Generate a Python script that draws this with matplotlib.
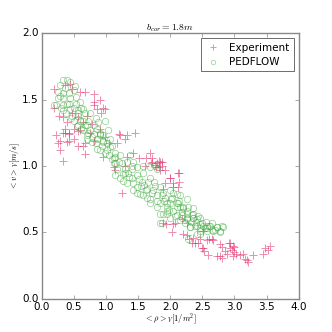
import matplotlib
matplotlib.use("Agg")
import matplotlib.pyplot as plt

plt.style.use("classic")

title = r"$b_{cor}=1.8m$"
xlabel = r"$<\rho>_V[1/m^2]$"
ylabel = r"$<v>_V[m/s]$"
series_names = ["Experiment", "PEDFLOW"]

exp_x = [0.19, 0.36, 0.45, 0.48, 0.60, 0.68, 0.81, 0.81, 0.91, 0.81, 0.95, 0.87, 0.99, 0.48, 0.19,
         0.27, 0.34, 0.40, 0.56, 0.71, 0.37, 0.34, 0.50, 0.43, 0.60, 0.76, 0.91, 0.79, 0.65,
         0.22, 0.37, 0.43, 0.56, 0.25, 0.29, 0.40, 0.42, 0.50, 0.29, 0.56, 0.65, 0.68, 0.68,
         0.34, 0.81, 0.93, 1.22, 1.33, 1.46, 1.30, 1.18, 0.99, 1.43, 1.33, 0.96, 1.30, 1.05,
         1.13, 1.15, 1.25, 1.52, 1.63, 1.69, 1.72, 1.72, 1.80, 1.82, 1.87, 1.92, 1.84, 2.13,
         2.00, 2.14, 1.92, 1.89, 2.05, 1.82, 1.61, 1.84, 1.87, 2.12, 2.00, 2.05, 2.12, 1.76,
         2.08, 2.03, 2.26, 2.51, 1.93, 2.05, 1.89, 2.19, 2.26, 2.30, 2.36, 2.39, 2.43, 2.47,
         2.57, 2.65, 2.67, 2.51, 2.53, 2.59, 2.78, 2.80, 2.93, 2.98, 2.96, 2.78, 2.80, 2.88,
         2.98, 3.03, 2.91, 2.99, 2.93, 3.00, 3.09, 3.14, 3.16, 3.21, 3.29, 3.44, 3.47, 3.52,
         3.56, 2.20, 2.34, 2.49, 2.61, 2.73, 2.85, 3.19, 1.78, 1.70, 1.20]
exp_y = [1.58, 1.61, 1.62, 1.58, 1.56, 1.56, 1.54, 1.48, 1.50, 1.46, 1.44, 1.43, 1.43, 1.40, 1.44,
         1.38, 1.37, 1.33, 1.37, 1.38, 1.28, 1.25, 1.28, 1.25, 1.27, 1.25, 1.28, 1.32, 1.33,
         1.23, 1.25, 1.24, 1.26, 1.17, 1.19, 1.18, 1.19, 1.20, 1.12, 1.15, 1.15, 1.09, 1.17,
         1.04, 1.19, 1.40, 1.23, 1.23, 1.25, 1.20, 1.17, 1.22, 1.10, 1.07, 1.07, 1.00, 1.17,
         0.99, 0.97, 0.80, 1.06, 1.06, 1.10, 1.06, 1.03, 1.02, 0.99, 1.03, 0.97, 0.97, 0.95,
         0.91, 0.88, 0.87, 0.83, 0.84, 1.04, 1.00, 1.03, 1.00, 0.95, 0.91, 0.87, 0.84, 1.01,
         0.57, 0.50, 0.48, 0.51, 0.56, 0.56, 0.57, 0.60, 0.57, 0.45, 0.46, 0.42, 0.42, 0.45,
         0.44, 0.45, 0.44, 0.38, 0.36, 0.33, 0.41, 0.39, 0.42, 0.40, 0.37, 0.32, 0.31, 0.34,
         0.32, 0.34, 0.42, 0.39, 0.38, 0.35, 0.33, 0.34, 0.30, 0.28, 0.33, 0.34, 0.38, 0.37,
         0.40, 0.49, 0.42, 0.38, 0.45, 0.32, 0.36, 0.29, 0.99, 1.02, 1.24]

ped_x = [0.34, 0.40, 0.45, 0.29, 0.37, 0.25, 0.33, 0.42, 0.50, 0.25, 0.34, 0.45, 0.53, 0.22,
         0.33, 0.42, 0.53, 0.60, 0.34, 0.45, 0.56, 0.65, 0.48, 0.57, 0.68, 0.76, 0.50, 0.64,
         0.73, 0.84, 0.57, 0.71, 0.81, 0.88, 0.65, 0.76, 0.87, 0.71, 0.81, 0.91, 0.99, 0.19,
         0.40, 0.50, 0.56, 0.60, 0.68, 0.73, 0.79, 0.84, 0.91, 0.96, 1.04, 0.87, 0.91, 1.02,
         1.07, 1.15, 1.15, 1.15, 1.22, 1.27, 1.33, 1.41, 1.49, 1.43, 1.53, 1.64, 1.69, 1.80,
         1.84, 1.90, 1.95, 2.05, 2.16, 2.26, 2.36, 2.47, 0.95, 1.02, 0.99, 1.10, 1.15, 1.12,
         1.22, 1.20, 1.12, 1.25, 1.33, 1.30, 1.41, 1.49, 1.58, 1.69, 1.77, 1.80, 0.91, 0.96,
         1.43, 1.41, 1.49, 1.58, 1.43, 1.57, 1.69, 1.64, 1.77, 1.89, 2.05, 2.16, 2.26, 1.80,
         1.69, 1.58, 1.49, 1.84, 2.00, 2.10, 1.38, 1.74, 1.84, 2.00, 2.10, 1.80, 1.95, 2.10,
         2.20, 2.26, 2.36, 2.47, 2.57, 1.89, 2.00, 2.16, 1.84, 2.31, 2.42, 1.87, 1.95, 2.10,
         2.19, 2.26, 2.36, 2.42, 2.47, 2.51, 2.57, 2.62, 2.67, 2.73, 2.78, 2.82, 2.47, 2.31,
         2.28, 2.20, 2.28, 2.36, 2.19, 2.26, 2.34, 2.42, 2.50, 2.57, 2.65, 2.73, 2.81, 2.78,
         2.47, 2.54, 2.65, 2.39, 2.23, 0.30, 0.38, 0.46, 0.55, 0.62, 0.70, 0.78, 0.86, 0.94,
         1.05, 1.10, 1.18, 1.26, 1.35, 1.52, 1.60, 1.66, 1.72, 1.92, 1.98, 2.02, 2.08, 2.12,
         2.18, 2.32, 2.40, 2.44, 2.55, 2.60, 2.70, 1.55, 1.62, 1.75, 1.88, 1.95, 2.03, 2.14,
         1.30, 1.36, 1.06, 0.62, 0.52, 0.28]
ped_y = [1.65, 1.65, 1.63, 1.61, 1.59, 1.56, 1.55, 1.55, 1.57, 1.51, 1.51, 1.51, 1.52, 1.46,
         1.46, 1.47, 1.47, 1.48, 1.42, 1.43, 1.42, 1.43, 1.38, 1.38, 1.40, 1.40, 1.34, 1.34,
         1.34, 1.36, 1.31, 1.31, 1.31, 1.33, 1.27, 1.27, 1.28, 1.23, 1.24, 1.24, 1.34, 1.46,
         1.47, 1.44, 1.40, 1.34, 1.31, 1.25, 1.22, 1.17, 1.23, 1.19, 1.27, 1.13, 1.12, 1.12,
         1.14, 1.07, 1.02, 0.93, 0.91, 0.89, 0.87, 0.91, 0.84, 0.82, 0.79, 0.76, 0.72, 0.69,
         0.64, 0.74, 0.69, 0.66, 0.69, 0.66, 0.64, 0.61, 1.18, 1.17, 1.10, 1.15, 1.10, 1.06,
         1.08, 1.03, 1.02, 1.02, 1.03, 0.98, 1.00, 0.99, 1.00, 0.99, 1.00, 0.98, 1.25, 1.23,
         1.03, 0.98, 0.93, 0.95, 0.87, 0.88, 0.91, 0.83, 0.85, 0.80, 0.80, 0.78, 0.75, 0.78,
         0.75, 0.78, 0.80, 0.72, 0.72, 0.72, 1.08, 0.82, 0.84, 0.82, 0.79, 0.74, 0.72, 0.69,
         0.69, 0.64, 0.61, 0.56, 0.51, 0.64, 0.61, 0.59, 0.57, 0.54, 0.49, 0.57, 0.64, 0.63,
         0.61, 0.60, 0.61, 0.55, 0.53, 0.55, 0.53, 0.55, 0.51, 0.54, 0.50, 0.54, 0.49, 0.54,
         0.45, 0.68, 0.69, 0.68, 0.63, 0.61, 0.63, 0.60, 0.57, 0.55, 0.57, 0.54, 0.55, 0.51,
         0.51, 0.53, 0.52, 0.55, 0.57, 1.44, 1.40, 1.36, 1.30, 1.28, 1.20, 1.18, 1.20, 1.15,
         1.08, 1.05, 0.98, 0.94, 0.95, 0.90, 0.86, 0.88, 0.80, 0.76, 0.67, 0.75, 0.62, 0.72,
         0.65, 0.58, 0.58, 0.62, 0.58, 0.55, 0.52, 0.85, 0.82, 0.88, 0.78, 0.66, 0.76, 0.74,
         0.95, 0.92, 1.20, 1.44, 1.60, 1.53]

fig = plt.figure(figsize=(3.32, 3.32), dpi=100)
fig.patch.set_facecolor("white")
ax = fig.add_subplot(111)
ax.plot(exp_x, exp_y, linestyle="none", marker="+", ms=5.2, mew=0.7,
        color="#e0306e", alpha=0.55, label=series_names[0])
ax.plot(ped_x, ped_y, linestyle="none", marker="o", ms=4.6, mew=0.5,
        mfc="none", mec="#3aa83a", alpha=0.55, label=series_names[1])
ax.set_xlim(0, 4)
ax.set_ylim(0, 2)
ax.set_xticks([0.0, 0.5, 1.0, 1.5, 2.0, 2.5, 3.0, 3.5, 4.0])
ax.set_yticks([0.0, 0.5, 1.0, 1.5, 2.0])
ax.tick_params(labelsize=7.5, length=3, color="#888888", pad=2)
for s in ax.spines.values():
    s.set_color("#888888")
ax.set_title(title, fontsize=7, pad=2)
ax.set_xlabel(xlabel, fontsize=6, labelpad=0)
ax.set_ylabel(ylabel, fontsize=6, labelpad=0)
leg = ax.legend(loc="upper right", numpoints=1, fontsize=7.5, markerscale=0.7,
                handlelength=1.5, borderpad=0.4, labelspacing=0.45)
leg.get_frame().set_edgecolor("#555555")
leg.get_frame().set_linewidth(0.6)
fig.savefig("out.png", dpi=100, facecolor="white")
